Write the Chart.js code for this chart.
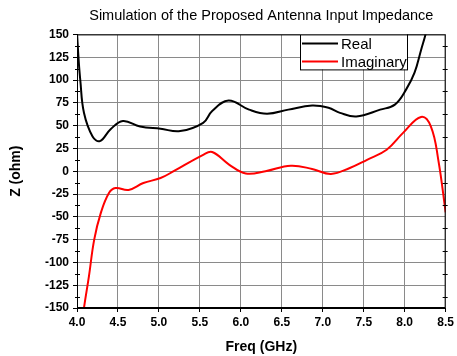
<!DOCTYPE html>
<html>
<head>
<meta charset="utf-8">
<script src="https://cdn.jsdelivr.net/npm/chart.js@4.4.0/dist/chart.umd.min.js"></script>
<style>
    html, body { margin: 0; padding: 0; background: #fff; }
    #wrap { width: 457px; height: 356px; }
</style>
</head>
<body>
<div id="wrap"><canvas id="impedanceChart" width="457" height="356"></canvas></div>
<script>
// Simulated input impedance, read at irregular frequencies (GHz)
var realFreq = [4.0, 4.02, 4.04, 4.085, 4.19, 4.28, 4.41, 4.56, 4.77, 5.02, 5.26, 5.54, 5.65, 5.85, 6.10, 6.32, 6.58, 6.87, 7.07, 7.21, 7.41, 7.70, 7.88, 8.02, 8.12, 8.20, 8.26, 8.30];
var realOhm = [152, 122, 100, 64, 38, 33, 46, 55, 49, 46.5, 44, 53, 66, 77.5, 67.5, 63, 67.5, 72, 69.5, 64, 60, 67.5, 73, 90, 108, 133, 152, 170];

var imagFreq = [4.06, 4.085, 4.146, 4.21, 4.29, 4.39, 4.47, 4.63, 4.81, 5.02, 5.18, 5.54, 5.65, 5.86, 6.06, 6.30, 6.61, 6.87, 7.10, 7.33, 7.54, 7.78, 7.98, 8.20, 8.32, 8.41, 8.50];
var imagOhm = [-170, -150, -115, -75, -46, -24, -18.5, -20.5, -13, -7.5, 0, 18, 21, 7, -2.5, 0, 6, 2.5, -3, 3.5, 12.5, 23.5, 42, 59.5, 49, 12.5, -45];

var seriesNames = ['Real', 'Imaginary'];
var seriesColors = ['#000000', '#ff0000'];

var xTicks = [4.0, 4.5, 5.0, 5.5, 6.0, 6.5, 7.0, 7.5, 8.0, 8.5];
var yTicks = [-150, -125, -100, -75, -50, -25, 0, 25, 50, 75, 100, 125, 150];

function toPoints(xs, ys) {
    return xs.map(function (x, i) { return { x: x, y: ys[i] }; });
}

// frame on all four sides plus the small minor ticks on the y axes
var framePlugin = {
    id: 'frame',
    afterDatasetsDraw: function (chart) {
        var ctx = chart.ctx;
        var a = chart.chartArea;
        var y = chart.scales.y;
        ctx.save();
        ctx.strokeStyle = '#000';
        ctx.lineWidth = 1;
        ctx.strokeRect(a.left + 0.5, a.top + 0.5, a.right - a.left - 1, a.bottom - a.top - 1);
        ctx.beginPath();
        for (var v = -137.5; v < 150; v += 25) {
            var py = Math.round(y.getPixelForValue(v)) + 0.5;
            ctx.moveTo(a.left - 2, py);
            ctx.lineTo(a.left + 3, py);
            ctx.moveTo(a.right - 3, py);
            ctx.lineTo(a.right + 2, py);
        }
        ctx.stroke();
        ctx.restore();
    }
};

// boxed legend sitting inside the top of the plot
var legendBoxPlugin = {
    id: 'legendBox',
    afterDraw: function (chart) {
        var ctx = chart.ctx;
        var a = chart.chartArea;
        var left = 300, top = a.top, w = 107, h = 35;
        ctx.save();
        ctx.fillStyle = '#fff';
        ctx.fillRect(left, top, w, h);
        ctx.strokeStyle = '#000';
        ctx.lineWidth = 1;
        ctx.strokeRect(left + 0.5, top + 0.5, w, h);
        ctx.font = '15px "Liberation Sans", Arial, sans-serif';
        ctx.textBaseline = 'middle';
        chart.data.datasets.forEach(function (ds, i) {
            var ly = top + 9 + i * 18;
            ctx.strokeStyle = ds.borderColor;
            ctx.lineWidth = 2;
            ctx.beginPath();
            ctx.moveTo(left + 2, ly);
            ctx.lineTo(left + 38, ly);
            ctx.stroke();
            ctx.fillStyle = '#000';
            ctx.fillText(ds.label, left + 41, ly + 1);
        });
        ctx.restore();
    }
};

new Chart(document.getElementById('impedanceChart'), {
    type: 'line',
    data: {
        datasets: [
            {
                label: seriesNames[0],
                data: toPoints(realFreq, realOhm),
                borderColor: seriesColors[0],
                backgroundColor: seriesColors[0],
                borderWidth: 2,
                pointRadius: 0,
                tension: 0.4
            },
            {
                label: seriesNames[1],
                data: toPoints(imagFreq, imagOhm),
                borderColor: seriesColors[1],
                backgroundColor: seriesColors[1],
                borderWidth: 2,
                pointRadius: 0,
                tension: 0.4
            }
        ]
    },
    options: {
        responsive: false,
        animation: false,
        layout: { padding: { left: 0, right: 9, top: 0, bottom: 0 } },
        plugins: {
            legend: { display: false },
            tooltip: { enabled: false },
            title: {
                display: true,
                fullSize: false,
                text: 'Simulation of the Proposed Antenna Input Impedance',
                color: '#000',
                font: { family: '"Liberation Sans", Arial, sans-serif', size: 14.5, weight: 'normal' },
                padding: { top: 7, bottom: 10 }
            }
        },
        scales: {
            x: {
                type: 'linear',
                min: 4,
                max: 8.5,
                afterBuildTicks: function (scale) {
                    scale.ticks = xTicks.map(function (v) { return { value: v }; });
                },
                afterFit: function (scale) { scale.height = 48; },
                ticks: {
                    color: '#000',
                    padding: 3,
                    maxRotation: 0,
                    font: { family: '"Liberation Sans", Arial, sans-serif', size: 12, weight: 'bold' },
                    callback: function (v) { return Number(v).toFixed(1); }
                },
                grid: { color: '#8a8a8a', lineWidth: 1, tickColor: '#000', tickLength: 4 },
                border: { color: '#000', width: 1 },
                title: {
                    display: true,
                    text: 'Freq (GHz)',
                    color: '#000',
                    font: { family: '"Liberation Sans", Arial, sans-serif', size: 14, weight: 'bold' },
                    padding: { top: 4, bottom: 0 }
                }
            },
            y: {
                min: -150,
                max: 150,
                afterBuildTicks: function (scale) {
                    scale.ticks = yTicks.map(function (v) { return { value: v }; });
                },
                afterFit: function (scale) { scale.width = 77; },
                ticks: {
                    color: '#000',
                    padding: 4,
                    font: { family: '"Liberation Sans", Arial, sans-serif', size: 12, weight: 'bold' }
                },
                grid: { color: '#8a8a8a', lineWidth: 1, tickColor: '#000', tickLength: 4 },
                border: { color: '#000', width: 1 },
                title: {
                    display: true,
                    text: 'Z (ohm)',
                    color: '#000',
                    font: { family: '"Liberation Sans", Arial, sans-serif', size: 14, weight: 'bold' },
                    padding: { top: 8, bottom: 0 }
                }
            }
        }
    },
    plugins: [framePlugin, legendBoxPlugin]
});
</script>
</body>
</html>
